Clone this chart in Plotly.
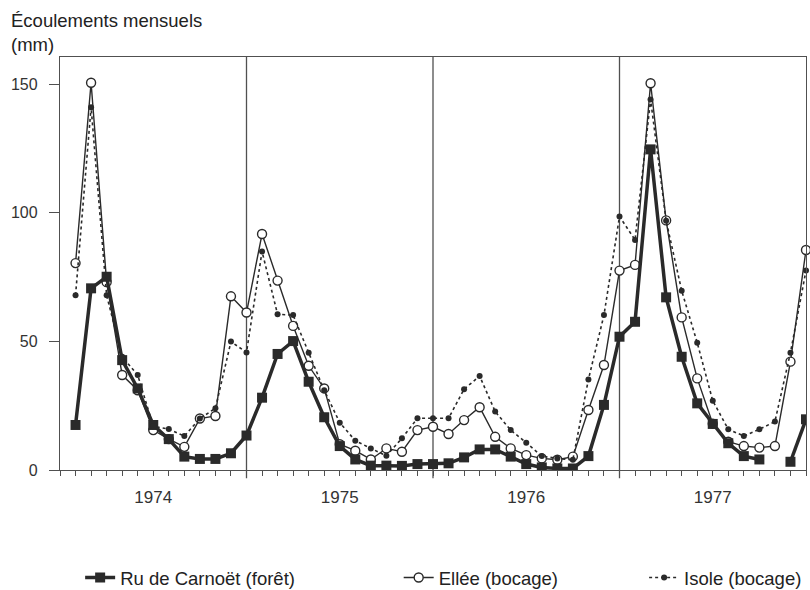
import plotly.graph_objects as go

# Month index 0 = Jan 1974 ... 47 = Dec 1977
months = list(range(48))
years = ["1974", "1975", "1976", "1977"]
year_centers = [5, 17, 29, 41]
year_bounds = [11, 23, 35]

carnoet = [17.5, 70.6, 75.1, 42.7, 31.7, 17.5, 12.0, 5.2, 4.3, 4.3, 6.5, 13.4,
           28.1, 45.1, 50.1, 34.3, 20.5, 9.3, 4.1, 1.7, 1.7, 1.6, 2.3, 2.3,
           2.6, 4.9, 8.0, 8.0, 5.2, 2.3, 1.0, 0.6, 0.6, 5.4, 25.3, 51.8,
           57.6, 124.6, 67.1, 44.0, 25.9, 17.9, 10.4, 5.4, 4.1, None, 3.2, 19.7]

ellee = [80.4, 150.5, 73.0, 36.9, 31.0, 15.5, 12.0, 9.0, 20.0, 21.0, 67.5, 61.2,
         91.7, 73.6, 56.0, 40.5, 31.7, 10.0, 7.5, 4.1, 8.4, 7.1, 15.5, 16.8,
         14.0, 19.4, 24.4, 12.9, 8.4, 5.8, 4.5, 4.0, 5.2, 23.3, 40.8, 77.5,
         79.7, 150.3, 97.0, 59.3, 35.6, 18.0, 11.0, 9.3, 8.7, 9.3, 42.1, 85.5]

isole = [67.9, 141.0, 67.9, 44.0, 36.9, 17.0, 15.9, 13.2, 20.0, 24.0, 49.9, 45.7,
         84.9, 60.5, 60.2, 45.6, 31.0, 18.4, 11.4, 8.4, 5.5, 12.3, 20.1, 20.1,
         20.1, 31.4, 36.5, 22.7, 15.5, 10.6, 5.4, 4.5, 4.0, 35.2, 60.2, 98.5,
         89.4, 144.0, 96.9, 69.7, 49.5, 26.9, 15.8, 13.2, 15.8, 18.8, 45.6, 77.5]

names = ["Ru de Carnoët (forêt)", "Ellée (bocage)", "Isole (bocage)"]

ink = "#2a2a2a"
frame = "#505050"
font = "Liberation Sans, Arial, sans-serif"

fig = go.Figure()
fig.add_trace(go.Scatter(
    x=months, y=ellee, name=names[1], mode="lines+markers",
    line=dict(color=ink, width=1.4),
    marker=dict(symbol="circle", size=9, color="white", line=dict(color=ink, width=1.4)),
    legend="legend2", cliponaxis=False))
fig.add_trace(go.Scatter(
    x=months, y=carnoet, name=names[0], mode="lines+markers",
    line=dict(color=ink, width=3.5),
    marker=dict(symbol="square", size=10, color=ink),
    connectgaps=False, legend="legend"))
fig.add_trace(go.Scatter(
    x=months, y=isole, name=names[2], mode="lines+markers",
    line=dict(color=ink, width=1.6, dash="dot"),
    marker=dict(symbol="circle", size=6, color=ink),
    legend="legend3", cliponaxis=False))

for b in year_bounds:
    fig.add_shape(type="line", xref="x", yref="paper", x0=b, x1=b, y0=-0.02, y1=1,
                  line=dict(color=frame, width=1.3), layer="below")

fig.add_annotation(text="Écoulements mensuels<br>(mm)", xref="paper", yref="paper",
                   x=-0.069, y=1.118, xanchor="left", yanchor="top", showarrow=False,
                   align="left", font=dict(family=font, size=18.5, color="#222"))

leg_common = dict(orientation="h", yref="container", yanchor="middle", y=0.0203,
                  xanchor="left", bgcolor="rgba(0,0,0,0)",
                  font=dict(family=font, size=18.5, color="#222"))

fig.update_layout(
    template="none",
    width=810, height=590,
    margin=dict(l=60, r=4, t=57, b=120, autoexpand=False),
    paper_bgcolor="white", plot_bgcolor="white",
    font=dict(family=font, color="#222"),
    showlegend=True,
    legend=dict(x=0.027, **leg_common),
    legend2=dict(x=0.454, **leg_common),
    legend3=dict(x=0.783, **leg_common),
    xaxis=dict(range=[-1, 47], tickvals=year_centers, ticktext=years, automargin=False,
               ticks="outside", ticklen=5, tickcolor=frame, tickwidth=1.2,
               minor=dict(dtick=1, tick0=-1, ticks="outside", ticklen=5,
                          tickcolor=frame, tickwidth=1.2),
               showgrid=False, zeroline=False, showline=True, linecolor=frame,
               linewidth=1.3, mirror=True, ticklabelstandoff=6,
               tickfont=dict(family=font, size=17, color="#333")),
    yaxis=dict(range=[0, 160.5], tickvals=[0, 50, 100, 150], ticks="outside", automargin=False,
               ticklen=10, tickcolor=frame, tickwidth=1.2, showgrid=False,
               zeroline=False, showline=True, linecolor=frame, linewidth=1.3,
               mirror=True, ticklabelstandoff=8,
               tickfont=dict(family=font, size=16, color="#333")),
)

fig.write_html("out.html", config={"responsive": False, "displayModeBar": False},
               post_script="document.body.style.margin='0';document.body.style.overflow='hidden';")
